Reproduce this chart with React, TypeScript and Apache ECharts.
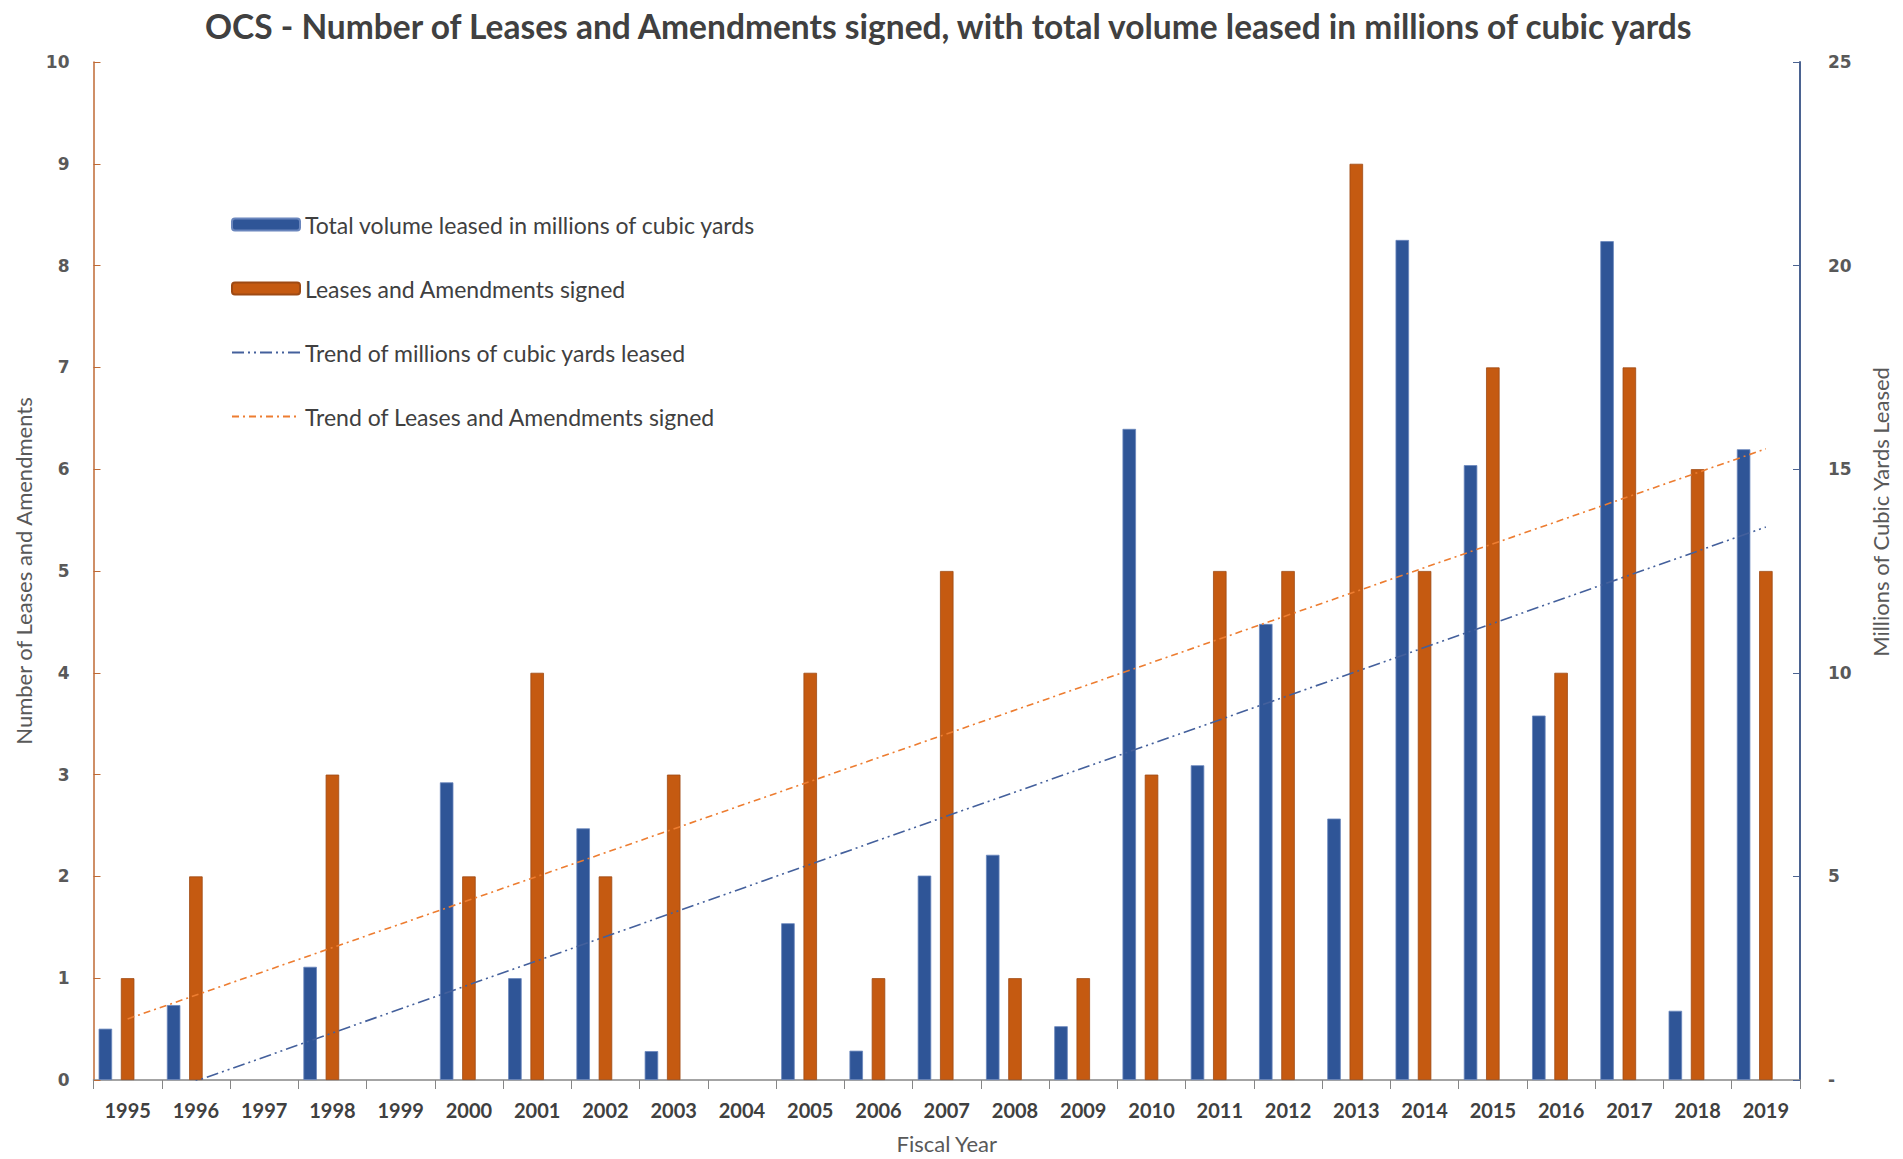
import React, { useEffect, useRef } from "react";
import * as echarts from "echarts";

const years = ["1995","1996","1997","1998","1999","2000","2001","2002","2003","2004","2005","2006","2007","2008","2009","2010","2011","2012","2013","2014","2015","2016","2017","2018","2019"];
const volume = [1.26,1.84,0,2.78,0,7.31,2.5,6.18,0.71,0,3.85,0.72,5.02,5.53,1.32,15.99,7.73,11.2,6.42,20.63,15.1,8.95,20.6,1.7,15.49];
const leases = [1,2,0,3,0,2,4,2,3,0,4,1,5,1,1,3,5,5,9,5,7,4,7,6,5];
const trendVolumeEnds = [-0.62, 13.58];
const trendLeasesEnds = [0.6, 6.2];

const NAME_VOL = "Total volume leased in millions of cubic yards";
const NAME_LEA = "Leases and Amendments signed";
const NAME_TV = "Trend of millions of cubic yards leased";
const NAME_TL = "Trend of Leases and Amendments signed";

export default function App() {
  const ref = useRef<HTMLDivElement>(null);
  useEffect(() => {
    if (!ref.current) return;
    const chart = echarts.init(ref.current, null, { renderer: "svg" });
    const first = years[0];
    const last = years[years.length - 1];
    const noZero = (v: number) => (v === 0 ? null : v);
    chart.setOption({
      animation: false,
      backgroundColor: "#ffffff",
      title: {
        text: "OCS - Number of Leases and Amendments signed, with total volume leased in millions of cubic yards",
        left: 200,
        top: 4,
        textStyle: { fontFamily: "Lato", fontWeight: "bold", fontSize: 33.5, color: "#404040" },
      },
      legend: {
        orient: "vertical",
        left: 226,
        top: 208,
        itemWidth: 68,
        itemHeight: 12,
        itemGap: 41,
        data: [
          NAME_VOL,
          NAME_LEA,
          { name: NAME_TV, itemStyle: { opacity: 0 } },
          { name: NAME_TL, itemStyle: { opacity: 0 } },
        ],
        textStyle: { fontFamily: "Lato", fontSize: 23, color: "#404040", lineHeight: 22 },
      },
      grid: { left: 93.5, right: 103, top: 62, bottom: 76, containLabel: false },
      xAxis: {
        type: "category",
        data: years,
        boundaryGap: true,
        name: "Fiscal Year",
        nameLocation: "middle",
        nameGap: 52,
        nameTextStyle: { fontFamily: "Lato", fontSize: 22, color: "#595959" },
        axisLine: { lineStyle: { color: "#868686", width: 1.5 } },
        axisTick: { show: true, length: 9, lineStyle: { color: "#868686" } },
        axisLabel: { fontFamily: "Lato", fontWeight: "bold", fontSize: 20, color: "#404040", margin: 20, interval: 0 },
      },
      yAxis: [
        {
          type: "value",
          min: 0,
          max: 10,
          interval: 1,
          position: "left",
          name: "Number of Leases and Amendments",
          nameLocation: "middle",
          nameGap: 57,
          nameRotate: 90,
          nameTextStyle: { fontFamily: "Lato", fontSize: 22, color: "#595959" },
          axisLine: { show: true, lineStyle: { color: "#BF6A35", width: 1.5 } },
          axisTick: { show: true, inside: true, length: 7, lineStyle: { color: "#BF6A35" } },
          axisLabel: { fontFamily: "DejaVu Sans", fontWeight: "bold", fontSize: 17, color: "#595959", margin: 24 },
          splitLine: { show: false },
        },
        {
          type: "value",
          min: 0,
          max: 25,
          interval: 5,
          position: "right",
          axisLine: { show: true, lineStyle: { color: "#4B6391", width: 2 } },
          axisTick: { show: true, inside: true, length: 7, lineStyle: { color: "#4B6391" } },
          axisLabel: {
            fontFamily: "DejaVu Sans", fontWeight: "bold", fontSize: 17, color: "#595959", margin: 28,
            formatter: (v: number) => (v === 0 ? "-" : String(v)),
          },
          splitLine: { show: false },
        },
      ],
      graphic: [
        {
          type: "text",
          x: 1880,
          y: 512,
          rotation: Math.PI / 2,
          style: {
            text: "Millions of Cubic Yards Leased",
            fontFamily: "Lato",
            fontSize: 22,
            fill: "#595959",
            textAlign: "center",
            textVerticalAlign: "middle",
          },
        },
      ],
      series: [
        {
          name: NAME_VOL,
          type: "bar",
          yAxisIndex: 1,
          data: volume.map(noZero),
          barWidth: 13.5,
          barGap: "65%",
          itemStyle: { color: "#2F5597", borderColor: "#6A86BD", borderWidth: 0.8 },
        },
        {
          name: NAME_LEA,
          type: "bar",
          yAxisIndex: 0,
          data: leases.map(noZero),
          barWidth: 13.5,
          barGap: "65%",
          itemStyle: { color: "#C55A11", borderColor: "#9E4A14", borderWidth: 0.8 },
        },
        {
          name: "spacer",
          type: "bar",
          yAxisIndex: 0,
          data: [],
          barWidth: 13.5,
          barGap: "65%",
          silent: true,
        },
        {
          name: NAME_TV,
          type: "line",
          yAxisIndex: 1,
          data: [[first, trendVolumeEnds[0]], [last, trendVolumeEnds[1]]],
          symbol: "none",
          clip: true,
          lineStyle: { color: "#44609C", width: 1.6, type: [12, 4, 2, 4, 2, 4] },
          itemStyle: { color: "#44609C" },
          z: 5,
        },
        {
          name: NAME_TL,
          type: "line",
          yAxisIndex: 0,
          data: [[first, trendLeasesEnds[0]], [last, trendLeasesEnds[1]]],
          symbol: "none",
          clip: true,
          lineStyle: { color: "#ED7D31", width: 1.6, type: [7, 4, 2, 4] },
          itemStyle: { color: "#ED7D31" },
          z: 5,
        },
      ],
    });
    return () => chart.dispose();
  }, []);
  return <div ref={ref} style={{ position: "fixed", left: 0, top: 0, width: 1903, height: 1159 }} />;
}
